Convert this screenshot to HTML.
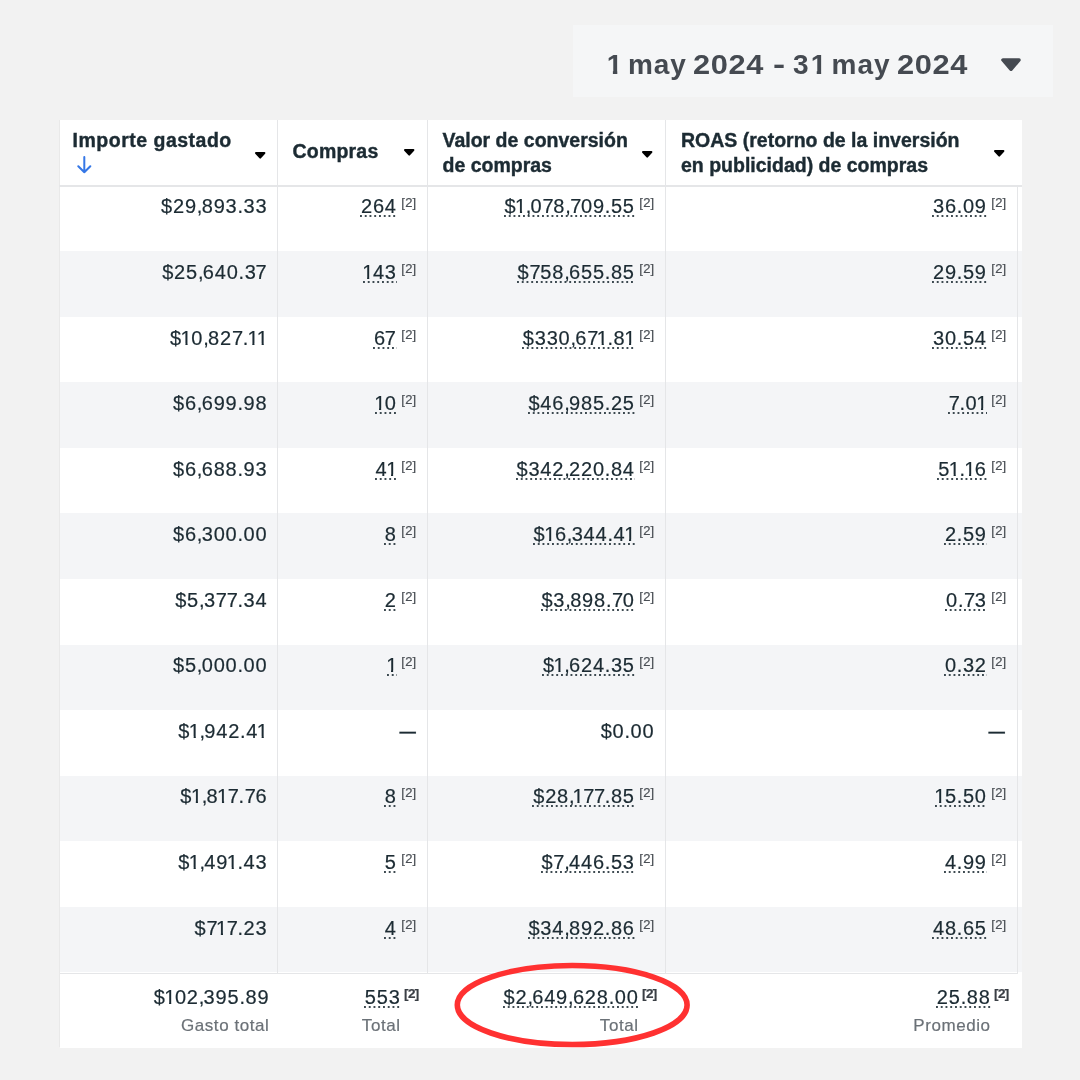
<!DOCTYPE html>
<html><head><meta charset="utf-8"><style>
*{margin:0;padding:0;box-sizing:border-box}
html,body{width:1080px;height:1080px;overflow:hidden;background:#f2f2f2}
body{will-change:transform;position:relative;font-family:"Liberation Sans",Arial,sans-serif;color:#1c2b33}
i{font-style:normal}
#dp{position:absolute;left:572.8px;top:25.4px;width:480.4px;height:71.7px;background:#f5f6f7}
#dpt i{position:absolute;top:0}
#dpt .one{clip-path:polygon(0 0,100% 0,100% 22.95px,10.5px 22.95px,10.5px 100%,6.1px 100%,6.1px 22.95px,0 22.95px)}
#dpt .one1{display:inline-block;font-weight:bold;margin-left:2.1px;clip-path:polygon(0 0,100% 0,100% 22.95px,10.5px 22.95px,10.5px 100%,6.1px 100%,6.1px 22.95px,0 22.95px)}
#dpt .yr{transform:scaleX(1.1);transform-origin:0 0}
#dpt .hy{transform:scaleX(1.3);transform-origin:0 0}
#dpt{position:absolute;left:0px;top:22.6px;font-size:28px;font-weight:bold;color:#454a51;letter-spacing:0.93px;word-spacing:-2.6px;white-space:nowrap;line-height:34px}
#dpt .d{letter-spacing:2.6px;margin-right:-1.67px}
#dpc{position:absolute;left:427.2px;top:32px}
#lb{position:absolute;left:59px;top:120px;width:1px;height:927px;background:#e9e9e9}
#tbl{position:absolute;left:60px;top:120px;width:962px;height:927.6px;background:#fff}
.hd{position:absolute;font-weight:bold;-webkit-text-stroke:0.4px #1c2b33;font-size:19.5px;line-height:25px;white-space:nowrap}
.car{position:absolute}
.row{position:absolute;left:0;width:962px}
.row.s{background:#f4f5f7}
.vl{position:absolute;width:1px;background:#e5e6e8}
.c{position:absolute;text-align:right;-webkit-text-stroke:0.2px currentColor;font-size:20px;letter-spacing:0.8px;white-space:nowrap;line-height:24px}
.c .cm{letter-spacing:-0.7px}
.c .pd{letter-spacing:0.5px}
.c .o,.c .oL{display:inline-block;letter-spacing:0;clip-path:polygon(0 0,100% 0,100% 16.9px,7.0px 16.9px,7.0px 100%,4.85px 100%,4.85px 16.9px,0 16.9px);margin-left:-1.33px;margin-right:-0.48px}
.c .oL{margin-right:-0.5px}
.c .s7L{margin-left:-1.1px}
.c .s7{letter-spacing:-0.3px}
.n{position:relative}
.n::after{content:"";position:absolute;left:-0.8px;right:0;top:20.17px;height:2px;background:linear-gradient(to right,rgba(28,43,51,.85) 0,rgba(28,43,51,.85) 1.7px,transparent 1.7px) 0 0/4.76px 2px repeat-x}
.sup{font-size:13px;color:#4a4f55;letter-spacing:0.2px;position:relative;top:-6px;margin-left:4.6px}
.dash{position:absolute;font-size:20px;line-height:24px;-webkit-text-stroke:0.35px #1c2b33;transform:scaleX(0.82);transform-origin:100% 50%;white-space:nowrap}
.sup.b{font-weight:bold;color:#3a3f45;font-size:13.5px;letter-spacing:-0.6px;top:-6px;margin-left:3.4px}
.lbl{color:#6b7177;font-size:17px;letter-spacing:0.55px}
</style></head><body>
<div id="dp"><div id="dpt"><i class="one" style="left:34.0px;letter-spacing:0px">1</i> <i style="left:55.2px;letter-spacing:0.93px">may</i> <i class="yr" style="left:119.8px;letter-spacing:0.6px">2024</i> <i class="hy" style="left:199.9px;letter-spacing:0px">-</i> <i style="left:220.2px;letter-spacing:0px">3<b class="one1">1</b></i> <i style="left:258.8px;letter-spacing:0.93px">may</i> <i class="yr" style="left:324.4px;letter-spacing:0.6px">2024</i></div>
<svg id="dpc" width="22" height="16" viewBox="0 0 22 16"><path d="M2.9 3 L19.1 3 L11 12.3 Z" fill="#454a51" stroke="#454a51" stroke-width="3.4" stroke-linejoin="round"/></svg></div>
<div id="lb"></div>
<div id="tbl">
<div class="row s" style="top:131.08px;height:65.58px"></div>
<div class="row s" style="top:262.24px;height:65.58px"></div>
<div class="row s" style="top:393.40px;height:65.58px"></div>
<div class="row s" style="top:524.56px;height:65.58px"></div>
<div class="row s" style="top:655.72px;height:65.58px"></div>
<div class="row s" style="top:786.88px;height:65.58px"></div>
<div style="position:absolute;left:-1px;top:65px;width:963px;height:2px;background:#e5e6e8"></div>
<div class="vl" style="left:217px;top:0;height:927px"></div>
<div class="vl" style="left:367px;top:0;height:927px"></div>
<div class="vl" style="left:605px;top:0;height:927px"></div>
<div class="vl" style="left:957px;top:67px;height:860px"></div>
<div class="hd" style="left:12.599999999999994px;top:8.04px;letter-spacing:0.5px">Importe gastado</div>
<svg style="position:absolute;left:17px;top:36px" width="15" height="18" viewBox="0 0 15 18"><path d="M7.3 1 V16.3 M1.3 10.2 L7.3 16.3 L13.3 10.2" fill="none" stroke="#3577e6" stroke-width="2" stroke-linecap="round" stroke-linejoin="round"/></svg>
<svg class="car" style="left:193.6px;top:30.5px" width="13" height="9" viewBox="0 0 13 9"><path d="M2 2 L10.4 2 L6.2 6.6 Z" fill="#000" stroke="#000" stroke-width="2" stroke-linejoin="round"/></svg>
<div class="hd" style="left:232.5px;top:19.04px;letter-spacing:0.2px">Compras</div>
<svg class="car" style="left:343.0px;top:28.4px" width="13" height="9" viewBox="0 0 13 9"><path d="M2 2 L10.4 2 L6.2 6.6 Z" fill="#000" stroke="#000" stroke-width="2" stroke-linejoin="round"/></svg>
<div class="hd" style="left:382.5px;top:7.94px">Valor de conversión<br>de compras</div>
<svg class="car" style="left:580.8px;top:29.6px" width="13" height="9" viewBox="0 0 13 9"><path d="M2 2 L10.4 2 L6.2 6.6 Z" fill="#000" stroke="#000" stroke-width="2" stroke-linejoin="round"/></svg>
<div class="hd" style="left:621px;top:7.94px">ROAS (retorno de la inversión<br>en publicidad) de compras</div>
<svg class="car" style="left:933.3px;top:29.4px" width="13" height="9" viewBox="0 0 13 9"><path d="M2 2 L10.4 2 L6.2 6.6 Z" fill="#000" stroke="#000" stroke-width="2" stroke-linejoin="round"/></svg>
<div class="c" style="right:754.6px;top:74.00px">$29<i class="cm">,</i>893<i class="pd">.</i>33</div>
<div class="c" style="right:605.6px;top:74.00px"><span class="n">264</span><span class="sup">[2]</span></div>
<div class="c" style="right:367.6px;top:74.00px"><span class="n">$<i class="o">1</i><i class="cm">,</i>0<i class="s7">7</i>8<i class="cm">,</i><i class="s7">7</i>09<i class="pd">.</i>55</span><span class="sup">[2]</span></div>
<div class="c" style="right:15.600000000000023px;top:74.00px"><span class="n">36<i class="pd">.</i>09</span><span class="sup">[2]</span></div>
<div class="c" style="right:754.6px;top:140.00px">$25<i class="cm">,</i>640<i class="pd">.</i>3<i class="s7L">7</i></div>
<div class="c" style="right:605.6px;top:140.00px"><span class="n"><i class="o">1</i>43</span><span class="sup">[2]</span></div>
<div class="c" style="right:367.6px;top:140.00px"><span class="n">$<i class="s7">7</i>58<i class="cm">,</i>655<i class="pd">.</i>85</span><span class="sup">[2]</span></div>
<div class="c" style="right:15.600000000000023px;top:140.00px"><span class="n">29<i class="pd">.</i>59</span><span class="sup">[2]</span></div>
<div class="c" style="right:754.6px;top:206.00px">$<i class="o">1</i>0<i class="cm">,</i>82<i class="s7">7</i><i class="pd">.</i><i class="o">1</i><i class="oL">1</i></div>
<div class="c" style="right:605.6px;top:206.00px"><span class="n">6<i class="s7L">7</i></span><span class="sup">[2]</span></div>
<div class="c" style="right:367.6px;top:206.00px"><span class="n">$330<i class="cm">,</i>6<i class="s7">7</i><i class="o">1</i><i class="pd">.</i>8<i class="oL">1</i></span><span class="sup">[2]</span></div>
<div class="c" style="right:15.600000000000023px;top:206.00px"><span class="n">30<i class="pd">.</i>54</span><span class="sup">[2]</span></div>
<div class="c" style="right:754.6px;top:271.00px">$6<i class="cm">,</i>699<i class="pd">.</i>98</div>
<div class="c" style="right:605.6px;top:271.00px"><span class="n"><i class="o">1</i>0</span><span class="sup">[2]</span></div>
<div class="c" style="right:367.6px;top:271.00px"><span class="n">$46<i class="cm">,</i>985<i class="pd">.</i>25</span><span class="sup">[2]</span></div>
<div class="c" style="right:15.600000000000023px;top:271.00px"><span class="n"><i class="s7">7</i><i class="pd">.</i>0<i class="oL">1</i></span><span class="sup">[2]</span></div>
<div class="c" style="right:754.6px;top:337.00px">$6<i class="cm">,</i>688<i class="pd">.</i>93</div>
<div class="c" style="right:605.6px;top:337.00px"><span class="n">4<i class="oL">1</i></span><span class="sup">[2]</span></div>
<div class="c" style="right:367.6px;top:337.00px"><span class="n">$342<i class="cm">,</i>220<i class="pd">.</i>84</span><span class="sup">[2]</span></div>
<div class="c" style="right:15.600000000000023px;top:337.00px"><span class="n">5<i class="o">1</i><i class="pd">.</i><i class="o">1</i>6</span><span class="sup">[2]</span></div>
<div class="c" style="right:754.6px;top:402.00px">$6<i class="cm">,</i>300<i class="pd">.</i>00</div>
<div class="c" style="right:605.6px;top:402.00px"><span class="n">8</span><span class="sup">[2]</span></div>
<div class="c" style="right:367.6px;top:402.00px"><span class="n">$<i class="o">1</i>6<i class="cm">,</i>344<i class="pd">.</i>4<i class="oL">1</i></span><span class="sup">[2]</span></div>
<div class="c" style="right:15.600000000000023px;top:402.00px"><span class="n">2<i class="pd">.</i>59</span><span class="sup">[2]</span></div>
<div class="c" style="right:754.6px;top:468.00px">$5<i class="cm">,</i>3<i class="s7">7</i><i class="s7">7</i><i class="pd">.</i>34</div>
<div class="c" style="right:605.6px;top:468.00px"><span class="n">2</span><span class="sup">[2]</span></div>
<div class="c" style="right:367.6px;top:468.00px"><span class="n">$3<i class="cm">,</i>898<i class="pd">.</i><i class="s7">7</i>0</span><span class="sup">[2]</span></div>
<div class="c" style="right:15.600000000000023px;top:468.00px"><span class="n">0<i class="pd">.</i><i class="s7">7</i>3</span><span class="sup">[2]</span></div>
<div class="c" style="right:754.6px;top:533.00px">$5<i class="cm">,</i>000<i class="pd">.</i>00</div>
<div class="c" style="right:605.6px;top:533.00px"><span class="n"><i class="oL">1</i></span><span class="sup">[2]</span></div>
<div class="c" style="right:367.6px;top:533.00px"><span class="n">$<i class="o">1</i><i class="cm">,</i>624<i class="pd">.</i>35</span><span class="sup">[2]</span></div>
<div class="c" style="right:15.600000000000023px;top:533.00px"><span class="n">0<i class="pd">.</i>32</span><span class="sup">[2]</span></div>
<div class="c" style="right:754.6px;top:599.00px">$<i class="o">1</i><i class="cm">,</i>942<i class="pd">.</i>4<i class="oL">1</i></div>
<div class="dash" style="left:335.5px;top:599.0px">—</div>
<div class="c" style="right:367.6px;top:599.00px">$0<i class="pd">.</i>00</div>
<div class="dash" style="left:925.1px;top:599.0px">—</div>
<div class="c" style="right:754.6px;top:664.00px">$<i class="o">1</i><i class="cm">,</i>8<i class="o">1</i><i class="s7">7</i><i class="pd">.</i><i class="s7">7</i>6</div>
<div class="c" style="right:605.6px;top:664.00px"><span class="n">8</span><span class="sup">[2]</span></div>
<div class="c" style="right:367.6px;top:664.00px"><span class="n">$28<i class="cm">,</i><i class="o">1</i><i class="s7">7</i><i class="s7">7</i><i class="pd">.</i>85</span><span class="sup">[2]</span></div>
<div class="c" style="right:15.600000000000023px;top:664.00px"><span class="n"><i class="o">1</i>5<i class="pd">.</i>50</span><span class="sup">[2]</span></div>
<div class="c" style="right:754.6px;top:730.00px">$<i class="o">1</i><i class="cm">,</i>49<i class="o">1</i><i class="pd">.</i>43</div>
<div class="c" style="right:605.6px;top:730.00px"><span class="n">5</span><span class="sup">[2]</span></div>
<div class="c" style="right:367.6px;top:730.00px"><span class="n">$<i class="s7">7</i><i class="cm">,</i>446<i class="pd">.</i>53</span><span class="sup">[2]</span></div>
<div class="c" style="right:15.600000000000023px;top:730.00px"><span class="n">4<i class="pd">.</i>99</span><span class="sup">[2]</span></div>
<div class="c" style="right:754.6px;top:796.00px">$<i class="s7">7</i><i class="o">1</i><i class="s7">7</i><i class="pd">.</i>23</div>
<div class="c" style="right:605.6px;top:796.00px"><span class="n">4</span><span class="sup">[2]</span></div>
<div class="c" style="right:367.6px;top:796.00px"><span class="n">$34<i class="cm">,</i>892<i class="pd">.</i>86</span><span class="sup">[2]</span></div>
<div class="c" style="right:15.600000000000023px;top:796.00px"><span class="n">48<i class="pd">.</i>65</span><span class="sup">[2]</span></div>
<div style="position:absolute;left:0;top:852.6px;width:958px;height:74.99999999999989px;background:#fff;border-top:1px solid #e5e6e8"></div>
<div class="c" style="right:752.7px;top:865.00px">$<i class="o">1</i>02<i class="cm">,</i>395<i class="pd">.</i>89</div>
<div class="c lbl" style="right:752.7px;top:894.00px">Gasto total</div>
<div class="c" style="right:603.3px;top:865.00px"><span class="n">553</span><span class="sup b">[2]</span></div>
<div class="c lbl" style="right:621.5px;top:894.00px">Total</div>
<div class="c" style="right:365.30000000000007px;top:865.00px"><span class="n">$2<i class="cm">,</i>649<i class="cm">,</i>628<i class="pd">.</i>00</span><span class="sup b">[2]</span></div>
<div class="c lbl" style="right:383.50000000000006px;top:894.00px">Total</div>
<div class="c" style="right:13.300000000000068px;top:865.00px"><span class="n">25<i class="pd">.</i>88</span><span class="sup b">[2]</span></div>
<div class="c lbl" style="right:31.500000000000068px;top:894.00px">Promedio</div>
</div>
<svg style="position:absolute;left:0;top:0" width="1080" height="1080"><ellipse cx="572.2" cy="1005.05" rx="114.9" ry="39.5" fill="none" stroke="#ff3131" stroke-width="5.6"/></svg>
</body></html>
